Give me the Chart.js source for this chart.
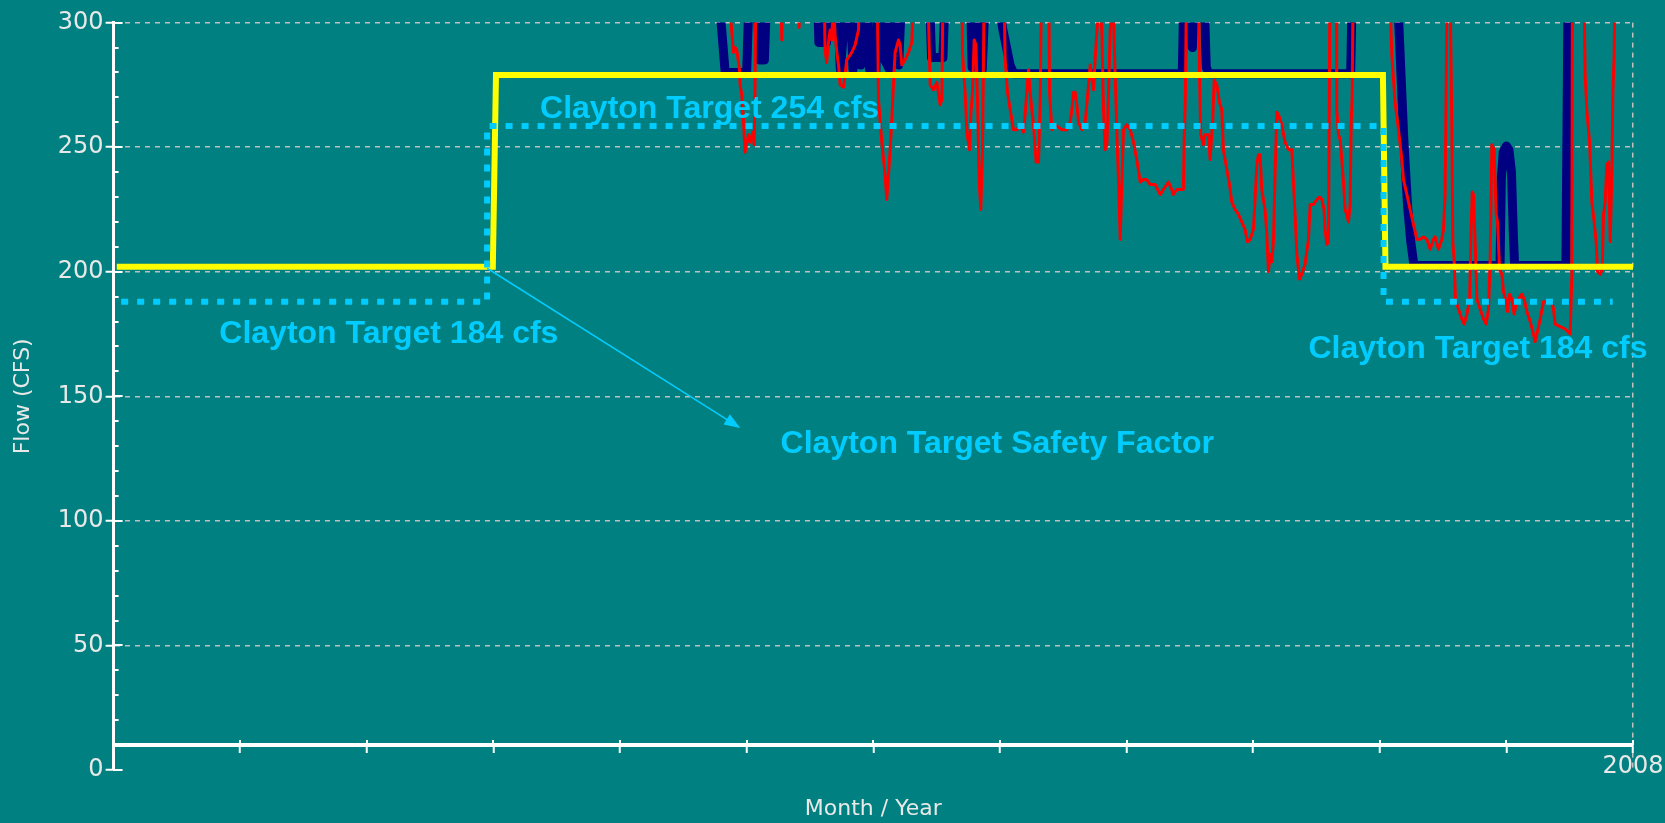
<!DOCTYPE html>
<html>
<head>
<meta charset="utf-8">
<title>Clayton Target Flow</title>
<script src="https://cdn.jsdelivr.net/npm/chart.js@4.4.1/dist/chart.umd.min.js"></script>
<style>
  html, body { margin: 0; padding: 0; background: #008080; }
  #chart { display: block; }
</style>
</head>
<body>
<canvas id="chart" width="1665" height="823"></canvas>
<script>
// x is months into the year (0 = Jan 1, 12 = Jan 1 2008), y is flow in cfs
const yearLabel = '2008';

// Clayton target (dotted cyan)
const targetMonth = [0.06, 2.95, 2.95, 10.03, 10.03, 11.84];
const targetFlow = [188, 188, 258.5, 258.5, 188, 188];

// target plus safety factor (yellow)
const safetyMonth = [0.025, 2.995, 3.02, 10.025, 10.045, 12];
const safetyFlow = [202, 202, 279, 279, 202, 202];

// daily flow (red), values over 300 run off the top of the plot
const flowMonth = [
  4.80, 4.83, 4.895, 4.908, 4.922, 4.943, 4.948, 4.961, 4.974, 4.987, 5.014, 5.027, 5.048, 5.059, 5.066, 5.074,
  5.264, 5.277, 5.290, 5.405, 5.414, 5.425, 5.606, 5.619, 5.632, 5.646, 5.659, 5.672, 5.685, 5.698, 5.712, 5.725,
  5.738, 5.764, 5.777, 5.790, 5.830, 5.856, 5.883, 5.896, 6.027, 6.041, 6.067, 6.093, 6.106, 6.120, 6.133, 6.146,
  6.159, 6.172, 6.199, 6.212, 6.225, 6.251, 6.278, 6.304, 6.330, 6.422, 6.449, 6.475, 6.502, 6.528, 6.541, 6.554,
  6.699, 6.704, 6.725, 6.739, 6.760, 6.770, 6.783, 6.797, 6.810, 6.823, 6.836, 6.849, 6.862, 6.870, 6.878, 7.028,
  7.041, 7.060, 7.081, 7.107, 7.134, 7.160, 7.186, 7.199, 7.213, 7.226, 7.239, 7.252, 7.265, 7.286, 7.305, 7.318,
  7.331, 7.384, 7.392, 7.410, 7.436, 7.463, 7.489, 7.529, 7.555, 7.568, 7.581, 7.594, 7.608, 7.621, 7.647, 7.673,
  7.686, 7.700, 7.713, 7.739, 7.752, 7.766, 7.792, 7.805, 7.818, 7.831, 7.845, 7.858, 7.871, 7.892, 7.910, 7.924,
  7.937, 7.950, 7.963, 7.976, 8.002, 8.029, 8.055, 8.081, 8.108, 8.134, 8.160, 8.187, 8.226, 8.266, 8.291, 8.331,
  8.357, 8.370, 8.397, 8.423, 8.449, 8.455, 8.465, 8.476, 8.568, 8.576, 8.586, 8.607, 8.620, 8.647, 8.660, 8.673,
  8.681, 8.692, 8.713, 8.734, 8.752, 8.765, 8.792, 8.813, 8.831, 8.857, 8.884, 8.910, 8.936, 8.955, 8.976, 9.002,
  9.015, 9.029, 9.042, 9.055, 9.068, 9.094, 9.108, 9.121, 9.134, 9.147, 9.160, 9.173, 9.187, 9.200, 9.226, 9.252,
  9.279, 9.305, 9.318, 9.331, 9.345, 9.366, 9.384, 9.410, 9.423, 9.437, 9.450, 9.476, 9.503, 9.524, 9.542, 9.560,
  9.568, 9.582, 9.595, 9.608, 9.655, 9.660, 9.674, 9.687, 9.700, 9.713, 9.726, 9.739, 9.753, 9.766, 9.774, 9.782,
  9.792, 10.069, 10.095, 10.121, 10.148, 10.174, 10.187, 10.214, 10.240, 10.266, 10.293, 10.319, 10.345, 10.372, 10.398, 10.424,
  10.437, 10.464, 10.490, 10.503, 10.516, 10.524, 10.535, 10.551, 10.561, 10.569, 10.577, 10.588, 10.598, 10.622, 10.648, 10.667,
  10.688, 10.709, 10.719, 10.730, 10.740, 10.753, 10.767, 10.793, 10.819, 10.840, 10.859, 10.872, 10.885, 10.903, 10.919, 10.930,
  10.946, 10.964, 10.977, 10.998, 11.009, 11.025, 11.043, 11.061, 11.077, 11.096, 11.122, 11.140, 11.162, 11.188, 11.209, 11.227,
  11.241, 11.267, 11.293, 11.359, 11.372, 11.385, 11.425, 11.464, 11.504, 11.517, 11.522, 11.609, 11.622, 11.635, 11.657, 11.675,
  11.693, 11.709, 11.720, 11.741, 11.757, 11.767, 11.780, 11.793, 11.807, 11.820, 11.833, 11.841, 11.851, 11.862, 11.95
];
const flowCfs = [
  340, 330, 288, 290, 289, 281, 275, 271, 261, 248, 255, 252, 256, 251, 275, 330,
  330, 293, 330, 330, 298, 330, 330, 289, 284, 292, 297, 293, 310, 295, 288, 283,
  275, 274, 279, 285, 288, 291, 297, 330, 330, 269, 252, 239, 229, 239, 249, 261,
  275, 288, 293, 291, 283, 285, 288, 292, 330, 330, 275, 273, 276, 267, 269, 330,
  330, 288, 272, 256, 249, 263, 272, 293, 291, 269, 236, 225, 248, 284, 330, 330,
  285, 272, 265, 257, 257, 259, 256, 263, 273, 281, 272, 265, 259, 244, 244, 268,
  330, 330, 272, 257, 259, 258, 257, 257, 260, 265, 272, 272, 267, 260, 257, 260,
  267, 275, 283, 273, 285, 297, 310, 296, 265, 249, 251, 272, 297, 310, 279, 255,
  236, 213, 236, 257, 259, 257, 252, 245, 236, 237, 237, 235, 235, 231, 233, 236,
  233, 231, 233, 233, 233, 252, 271, 330, 330, 279, 255, 251, 255, 255, 245, 255,
  261, 277, 275, 268, 265, 249, 241, 235, 228, 225, 223, 220, 217, 212, 213, 217,
  229, 243, 247, 247, 233, 225, 215, 200, 207, 204, 212, 239, 264, 263, 259, 252,
  249, 249, 236, 223, 207, 197, 199, 203, 208, 213, 227, 227, 229, 230, 229, 225,
  217, 211, 212, 330, 330, 265, 255, 253, 245, 236, 225, 223, 220, 227, 259, 271,
  330, 330, 287, 268, 257, 245, 237, 231, 225, 219, 213, 213, 214, 213, 209, 213,
  214, 209, 213, 217, 231, 273, 330, 330, 292, 257, 212, 204, 189, 185, 181, 179,
  183, 188, 212, 232, 231, 212, 189, 185, 181, 179, 185, 205, 251, 249, 223, 220,
  201, 199, 192, 188, 184, 191, 189, 183, 187, 189, 191, 189, 184, 180, 176, 172,
  175, 181, 188, 188, 185, 179, 178, 177, 175, 199, 330, 330, 279, 265, 252, 228,
  220, 212, 200, 199, 201, 223, 228, 243, 244, 212, 239, 272, 287, 330, 340
];

// release (navy), sits on the target when it is not above it
const releaseMonth = [
  4.70, 4.75, 4.83, 5.00, 5.03, 5.07, 5.10, 5.14, 5.17, 5.55, 5.57, 5.63, 5.66, 5.70, 5.74, 5.77,
  5.80, 5.84, 5.87, 5.90, 5.94, 5.97, 6.02, 6.05, 6.09, 6.13, 6.17, 6.20, 6.24, 6.43, 6.46, 6.55,
  6.58, 6.76, 6.78, 6.82, 6.86, 6.90, 6.95, 7.02, 7.08, 7.11, 8.44, 8.46, 8.50, 8.52, 8.55, 8.60,
  8.63, 8.65, 9.77, 9.79, 10.12, 10.15, 10.19, 10.22, 10.245, 10.27, 10.95, 10.96, 10.975, 11.00, 11.02, 11.04,
  11.055, 11.065, 11.47, 11.49, 12.0
];
const releaseCfs = [
  340, 330, 280, 280, 330, 330, 285, 285, 330, 330, 292, 292, 330, 330, 281, 300,
  330, 281, 330, 283, 330, 281, 280, 330, 285, 281, 330, 283, 330, 330, 286, 286,
  330, 330, 282, 330, 281, 330, 330, 298, 283, 279.5, 279.5, 330, 330, 290, 330, 330,
  282, 279.5, 279.5, 330, 330, 300, 253, 226, 212, 202.5, 202.5, 237, 248, 250.5, 249, 240,
  215, 202.5, 202.5, 330, 330
];

// text notes placed at (month, cfs), left aligned on the baseline
const noteText = ['Clayton Target 184 cfs', 'Clayton Target 254 cfs', 'Clayton Target 184 cfs', 'Clayton Target Safety Factor'];
const noteMonth = [0.835, 3.368, 9.437, 5.268];
const noteFlow = [171.5, 261.7, 165.3, 127.3];
// arrow from the step to the safety factor note
const arrowMonth = [2.95, 4.949];
const arrowFlow = [201.4, 137.3];

const axisText = '#e8e8e8';
const gridColor = '#c0c0c0';
const noteColor = '#00ccff';
const tickFont = { family: '"DejaVu Sans", Verdana, sans-serif', size: 24 };
const titleFont = { family: '"DejaVu Sans", Verdana, sans-serif', size: 22 };

function toPoints(xs, ys) {
  return xs.map((x, i) => ({ x: x, y: ys[i] }));
}

// small ticks on the inside of the flow axis, month ticks above the axis, notes and arrow
const extrasPlugin = {
  id: 'extras',
  afterDraw(chart) {
    const ctx = chart.ctx;
    const xs = chart.scales.x;
    const ys = chart.scales.y;

    ctx.save();
    ctx.strokeStyle = '#ffffff';
    ctx.lineWidth = 2;
    const axisX = ys.right;
    ys.ticks.forEach(t => {
      const py = Math.round(ys.getPixelForValue(t.value));
      const len = t.value % 50 === 0 ? 9 : 5;
      ctx.beginPath();
      ctx.moveTo(axisX - 1, py);
      ctx.lineTo(axisX + len, py);
      ctx.stroke();
    });
    const axisY = ys.getPixelForValue(10);
    xs.ticks.forEach(t => {
      const px = Math.round(xs.getPixelForValue(t.value));
      ctx.beginPath();
      ctx.moveTo(px, axisY);
      ctx.lineTo(px, axisY - 5);
      ctx.stroke();
    });

    ctx.fillStyle = noteColor;
    ctx.font = 'bold 32px "Liberation Sans", Arial, sans-serif';
    ctx.textAlign = 'left';
    ctx.textBaseline = 'alphabetic';
    for (let i = 0; i < noteText.length; i++) {
      ctx.fillText(noteText[i], xs.getPixelForValue(noteMonth[i]), ys.getPixelForValue(noteFlow[i]));
    }

    const x1 = xs.getPixelForValue(arrowMonth[0]);
    const y1 = ys.getPixelForValue(arrowFlow[0]);
    const x2 = xs.getPixelForValue(arrowMonth[1]);
    const y2 = ys.getPixelForValue(arrowFlow[1]);
    const ang = Math.atan2(y2 - y1, x2 - x1);
    const head = 16;
    ctx.strokeStyle = noteColor;
    ctx.lineWidth = 1.5;
    ctx.beginPath();
    ctx.moveTo(x1, y1);
    ctx.lineTo(x2 - Math.cos(ang) * head * 0.8, y2 - Math.sin(ang) * head * 0.8);
    ctx.stroke();
    ctx.beginPath();
    ctx.moveTo(x2, y2);
    ctx.lineTo(x2 - head * Math.cos(ang) + 6 * Math.sin(ang), y2 - head * Math.sin(ang) - 6 * Math.cos(ang));
    ctx.lineTo(x2 - head * Math.cos(ang) - 6 * Math.sin(ang), y2 - head * Math.sin(ang) + 6 * Math.cos(ang));
    ctx.closePath();
    ctx.fill();
    ctx.restore();
  }
};

new Chart(document.getElementById('chart'), {
  type: 'line',
  data: {
    datasets: [
      { label: 'Clayton Target', data: toPoints(targetMonth, targetFlow), borderColor: noteColor,
        borderWidth: 6, borderDash: [7, 9], borderJoinStyle: 'miter', order: 0 },
      { label: 'Target + Safety Factor', data: toPoints(safetyMonth, safetyFlow), borderColor: '#ffff00',
        borderWidth: 6, borderJoinStyle: 'miter', order: 1 },
      { label: 'Flow', data: toPoints(flowMonth, flowCfs), borderColor: '#ff0000',
        borderWidth: 3, borderJoinStyle: 'round', clip: 0, order: 2 },
      { label: 'Release', data: toPoints(releaseMonth, releaseCfs), borderColor: '#000080',
        borderWidth: 9, borderJoinStyle: 'round', clip: 0, order: 3 }
    ]
  },
  options: {
    responsive: false,
    animation: false,
    devicePixelRatio: 1,
    layout: { padding: { left: 0, right: 32, top: 22.6, bottom: 53 } },
    elements: { point: { radius: 0, hoverRadius: 0 }, line: { tension: 0, fill: false } },
    plugins: { legend: { display: false }, tooltip: { enabled: false } },
    events: [],
    scales: {
      x: {
        type: 'linear', min: 0, max: 12,
        position: { y: 10 },
        ticks: {
          stepSize: 1, autoSkip: false, maxRotation: 0, color: axisText, font: tickFont, padding: 1,
          callback: v => v === 12 ? yearLabel : ''
        },
        grid: {
          color: c => c.tick && c.tick.value === 12 ? gridColor : 'transparent',
          lineWidth: 1.5, tickColor: '#ffffff', tickLength: 6, tickWidth: 2
        },
        border: { color: '#ffffff', width: 4, dash: [5, 5] },
        title: { display: true, text: 'Month / Year', color: axisText, font: titleFont, padding: 0 },
        afterFit: s => { s.height = 77; s.paddingLeft = 0; s.paddingRight = 0; }
      },
      y: {
        min: 0, max: 300,
        ticks: {
          stepSize: 10, autoSkip: false, color: axisText, font: tickFont, padding: 2,
          callback: v => v % 50 === 0 ? v : ''
        },
        grid: {
          color: c => c.tick && c.tick.value % 50 === 0 && c.tick.value > 0 ? gridColor : 'transparent',
          lineWidth: 1.5,
          tickColor: c => c.tick && c.tick.value % 50 === 0 ? '#ffffff' : 'transparent',
          tickLength: 8, tickWidth: 2
        },
        border: { color: '#ffffff', width: 3, dash: [5, 5] },
        title: { display: true, text: 'Flow (CFS)', color: axisText, font: titleFont, padding: { top: 10 } },
        afterFit: s => { s.width = 113.6; }
      }
    }
  },
  plugins: [extrasPlugin]
});
</script>
</body>
</html>
